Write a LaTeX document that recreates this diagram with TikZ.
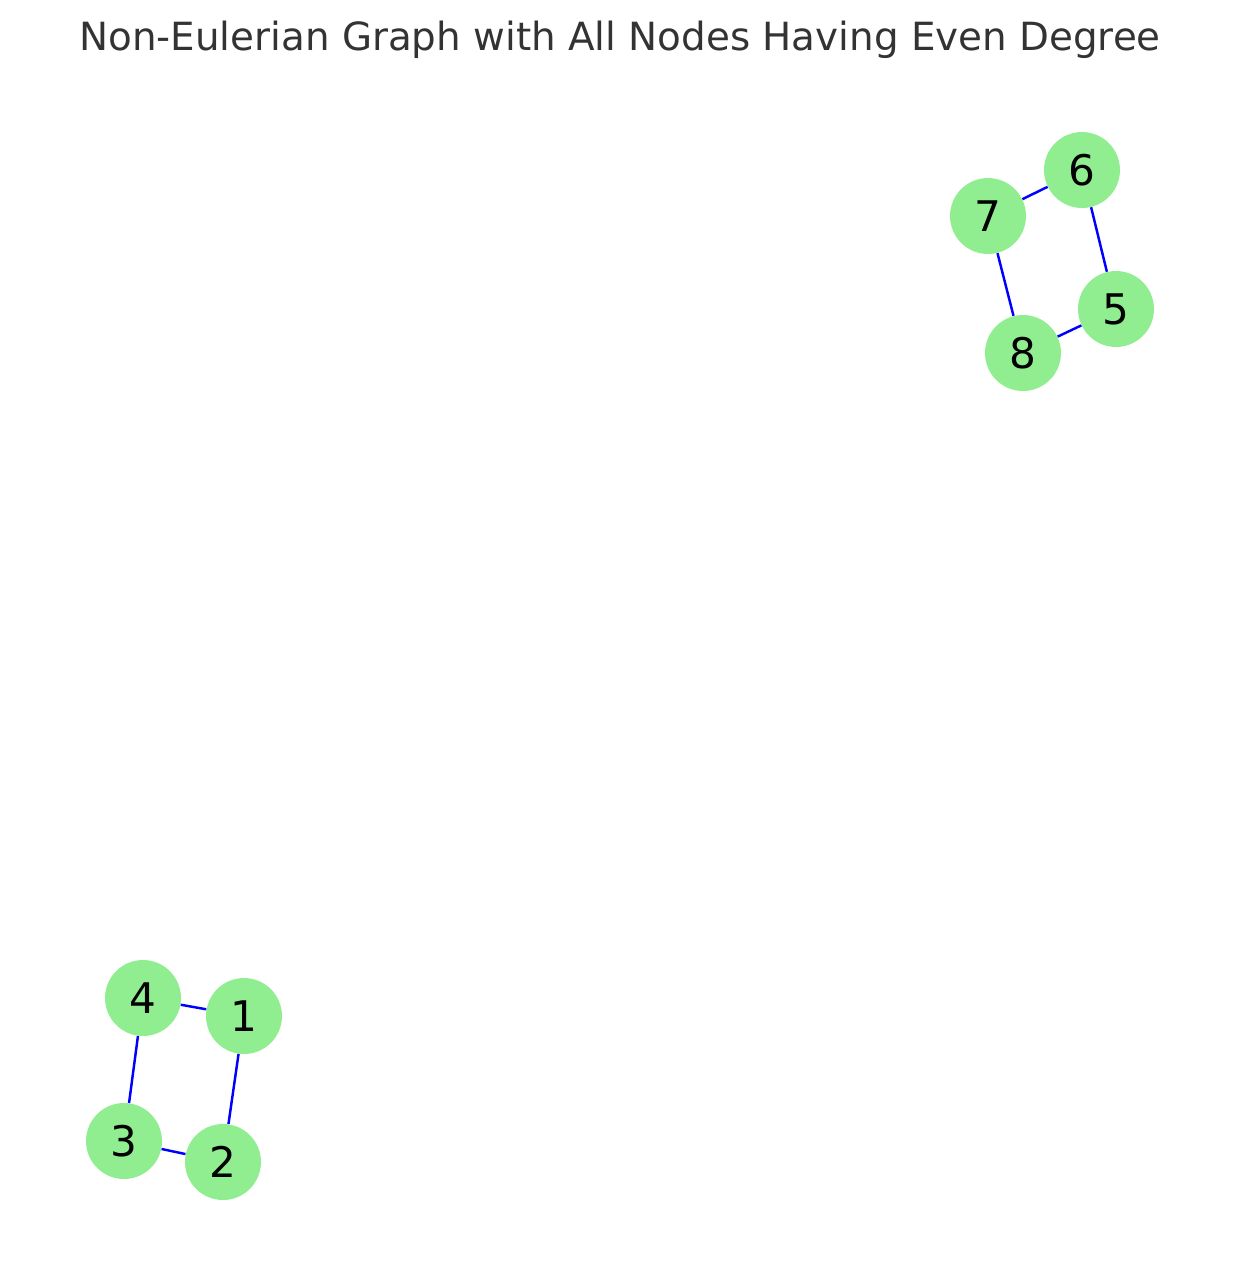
\documentclass[tikz,border=0pt]{standalone}
\usepackage{fontspec}
\setmainfont{DejaVu Sans}
\usepackage{tikz}
\definecolor{nodeGreen}{HTML}{90EE90}
\definecolor{titleGray}{HTML}{333333}
\definecolor{edgeBlue}{HTML}{0000FF}
\begin{document}
\begin{tikzpicture}[x=0.02cm, y=-0.02cm]
\tikzstyle{vertex}=[circle, fill=nodeGreen, minimum size=1.52cm, inner sep=0pt, font=\fontsize{24}{24}\selectfont]
\tikzstyle{link}=[edgeBlue, line width=1.4pt]
\useasboundingbox (0,0) rectangle (1239,1286);
\node[text=titleGray, font=\fontsize{22.1}{22.1}\selectfont] (title) at (620,40) {Non-Eulerian Graph with All Nodes Having Even Degree};
% first component
\node[vertex] (n1) at (244,1016) {1};
\node[vertex] (n2) at (223,1162) {2};
\node[vertex] (n3) at (124,1141) {3};
\node[vertex] (n4) at (143,998) {4};
% second component
\node[vertex] (n5) at (1116,309) {5};
\node[vertex] (n6) at (1082,170) {6};
\node[vertex] (n7) at (988,216) {7};
\node[vertex] (n8) at (1023,353) {8};
\draw[link] (n4) -- (n1);
\draw[link] (n1) -- (n2);
\draw[link] (n2) -- (n3);
\draw[link] (n3) -- (n4);
\draw[link] (n7) -- (n6);
\draw[link] (n6) -- (n5);
\draw[link] (n5) -- (n8);
\draw[link] (n8) -- (n7);
\end{tikzpicture}
\end{document}
